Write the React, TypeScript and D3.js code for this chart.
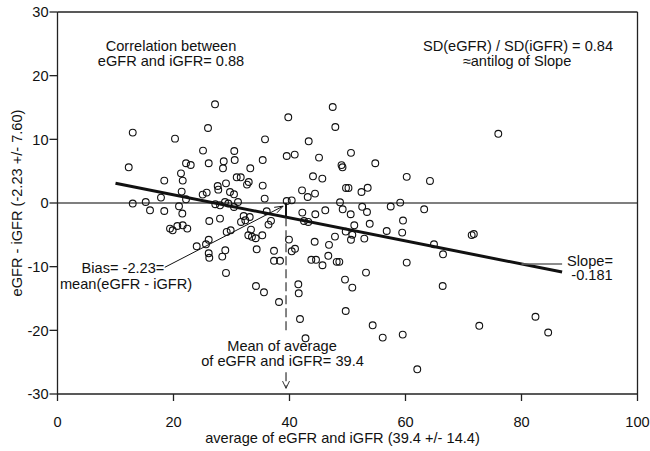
import React from "react";
import * as d3 from "d3";

// average of eGFR and iGFR (x) and eGFR - iGFR (y)
const avgValues: number[] = [
  27.16, 39.79, 12.97, 20.26, 25.95, 35.78, 43.31, 25.09, 30.48, 39.52,
  40.9, 45.09, 12.28, 22.16, 22.97, 26.07, 28.66, 30.55, 35.38, 28.53,
  33.24, 21.29, 30.9, 31.59, 44.05, 45.66, 18.41, 21.59, 29.05, 27.62,
  27.72, 32.97, 32.67, 35.38, 21.41, 25.03, 25.72, 29.74, 30.43, 42.16,
  44.4, 43.14, 17.84, 22.16, 35.72, 39.52, 40.38, 12.97, 15.21, 20.95,
  27.21, 28.02, 28.88, 29.45, 30.43, 31.12, 15.95, 18.41, 21.52, 26.17,
  28.02, 32.1, 33.14, 31.64, 32.38, 36.07, 36.81, 36.38, 42.21, 42.5,
  43.24, 44.45, 46.17, 19.4, 19.86, 20.66, 21.59, 22.38, 29.17, 29.86,
  33.36, 32.9, 33.53, 34.17, 35.31, 24.0, 25.6, 26.07, 26.07, 26.17,
  28.93, 28.41, 29.05, 34.34, 37.33, 37.33, 38.36, 39.91, 40.38, 40.95,
  44.34, 46.81, 43.76, 44.57, 45.69, 46.69, 34.22, 35.6, 38.19, 41.52,
  41.59, 41.81, 42.76, 47.45, 47.9, 76.0, 50.6, 48.97, 49.14, 54.79,
  60.21, 64.22, 49.74, 50.17, 53.48, 52.41, 48.71, 49.17, 50.55, 52.53,
  53.36, 57.45, 59.09, 63.22, 51.17, 53.83, 59.57, 49.69, 47.84, 56.76,
  59.43, 71.41, 71.78, 50.83, 50.6, 52.9, 48.14, 48.59, 53.19, 49.57,
  50.83, 60.21, 64.91, 66.47, 66.41, 49.69, 54.34, 56.07, 59.52, 72.72,
  62.03, 82.41, 84.6,
];
const diffValues: number[] = [
  15.5, 13.46, 11.06, 10.11, 11.78, 10.0, 9.69, 8.23, 8.17, 7.38,
  7.6, 7.13, 5.61, 6.24, 5.97, 6.24, 6.55, 6.75, 6.75, 5.45,
  5.45, 4.66, 4.04, 4.04, 4.19, 3.83, 3.52, 3.52, 3.09, 2.67,
  2.1, 3.3, 2.89, 2.73, 1.79, 1.32, 1.63, 1.73, 1.37, 1.99,
  1.48, 0.94, 0.85, 0.58, 0.69, 0.31, 0.42, -0.09, 0.16, -0.52,
  -0.2, -0.36, 0.16, -0.09, -0.63, 0.16, -1.15, -1.26, -1.66, -2.83,
  -2.45, -2.04, -2.2, -2.98, -2.72, -1.3, -2.8, -3.39, -1.51, -2.83,
  -2.98, -1.77, -1.15, -4.02, -4.29, -3.61, -3.5, -4.02, -4.55, -4.29,
  -4.18, -5.07, -5.31, -5.54, -5.07, -6.8, -6.49, -5.78, -7.9, -8.61,
  -7.43, -8.42, -10.99, -7.27, -7.51, -9.08, -9.08, -5.75, -7.59, -7.19,
  -6.09, -6.57, -8.92, -8.92, -9.78, -8.29, -13.04, -14.03, -15.55, -12.77,
  -14.18, -18.22, -21.25, 15.08, 11.94, 10.87, 7.88, 5.95, 5.61, 6.24,
  4.11, 3.46, 2.36, 2.36, 2.39, 1.73, 0.11, -0.99, -1.77, -0.6,
  -1.41, -0.55, 0.06, -0.99, -3.5, -3.27, -2.76, -4.49, -5.28, -4.4,
  -4.65, -5.04, -4.88, -4.99, -5.78, -5.59, -9.24, -9.24, -10.93, -12.03,
  -13.29, -9.36, -6.49, -8.06, -13.04, -16.96, -19.21, -21.14, -20.67, -19.29,
  -26.12, -17.87, -20.34,
];

const xTicks = [0, 20, 40, 60, 80, 100];
const yTicks = [-30, -20, -10, 0, 10, 20, 30];

const bias = -2.23;
const meanAvg = 39.4;
const slope = -0.181;
const regRange = [10, 87];

const W = 650;
const H = 451;
const M = { left: 57.5, right: 12.5, top: 12, bottom: 57 };
const FONT = "'Liberation Sans', Arial, Helvetica, sans-serif";

function arrowHead(tipX: number, tipY: number, fromX: number, fromY: number, len = 8, ang = 0.45) {
  const a = Math.atan2(tipY - fromY, tipX - fromX);
  const p1 = [tipX - len * Math.cos(a - ang), tipY - len * Math.sin(a - ang)];
  const p2 = [tipX - len * Math.cos(a + ang), tipY - len * Math.sin(a + ang)];
  return `M${p1[0]},${p1[1]}L${tipX},${tipY}L${p2[0]},${p2[1]}`;
}

export default function App() {
  const x = d3.scaleLinear().domain([0, 100]).range([M.left, W - M.right]);
  const y = d3.scaleLinear().domain([-30, 30]).range([H - M.bottom, M.top]);
  const x0 = x(0), x1 = x(100), y0 = y(-30), y1 = y(30);

  const regLine = d3.line<number>()
    .x((d) => x(d))
    .y((d) => y(bias + slope * (d - meanAvg)));

  // bias annotation arrow
  const bStart = [x(18.5), y(-10.1)];
  const bEnd = [x(38.9), y(-0.5)];

  // slope connector
  const sY = y(bias + slope * (80 - meanAvg));

  const textStyle = { fontFamily: FONT, fontSize: 14.6, fill: "#111" } as const;

  return (
    <svg width={W} height={H} style={{ position: "absolute", left: 0, top: 0, background: "#fff" }}>
      {/* zero line */}
      <line x1={x0} x2={x1} y1={y(0)} y2={y(0)} stroke="#555" strokeWidth={1.5} />

      {/* points */}
      <g>
        {avgValues.map((v, i) => (
          <circle key={i} cx={x(v)} cy={y(diffValues[i])} r={3.4} fill="none" stroke="#111" strokeWidth={1.1} />
        ))}
      </g>

      {/* regression line */}
      <path d={regLine(regRange) || ""} stroke="#111" strokeWidth={3} fill="none" />

      {/* bias vertical segment */}
      <line x1={x(meanAvg)} x2={x(meanAvg)} y1={y(0)} y2={y(bias)} stroke="#111" strokeWidth={2} />
      {/* dashed mean-of-average line */}
      <line x1={x(meanAvg)} x2={x(meanAvg)} y1={y(bias)} y2={y(-20.15)} stroke="#333" strokeWidth={1.2} strokeDasharray="9,4" />
      <line x1={x(meanAvg)} x2={x(meanAvg)} y1={y(-26.6)} y2={y(-29.1)} stroke="#333" strokeWidth={1.2} strokeDasharray="9,4" />
      <path d={arrowHead(x(meanAvg), y(-29.1), x(meanAvg), y(-20))} stroke="#333" strokeWidth={1} fill="none" />

      {/* bias arrow */}
      <line x1={bStart[0]} y1={bStart[1]} x2={bEnd[0]} y2={bEnd[1]} stroke="#111" strokeWidth={1} />
      <path d={arrowHead(bEnd[0], bEnd[1], bStart[0], bStart[1], 9, 0.35)} stroke="#111" strokeWidth={1} fill="none" />

      {/* slope connector */}
      <line x1={x(80)} x2={x(87)} y1={sY} y2={sY} stroke="#666" strokeWidth={1.5} />

      {/* frame */}
      <g stroke="#222" strokeWidth={1.3} fill="none">
        <line x1={x0} x2={x1} y1={y0} y2={y0} />
        <line x1={x0} x2={x1} y1={y1} y2={y1} />
        <line x1={x0} x2={x0} y1={y0} y2={y1} />
        <line x1={x1} x2={x1} y1={y0} y2={y1} />
      </g>

      {/* x axis ticks */}
      {xTicks.map((t) => (
        <g key={"x" + t}>
          <line x1={x(t)} x2={x(t)} y1={y0} y2={y0 + 7} stroke="#222" strokeWidth={1.3} />
          <text x={x(t)} y={427} textAnchor="middle" style={textStyle}>{t}</text>
        </g>
      ))}
      {/* y axis ticks */}
      {yTicks.map((t) => (
        <g key={"y" + t}>
          <line x1={x0 - 8} x2={x0} y1={y(t)} y2={y(t)} stroke="#222" strokeWidth={1.3} />
          <text x={x0 - 9} y={y(t)} dy="0.36em" textAnchor="end" style={textStyle}>{t}</text>
        </g>
      ))}

      {/* axis titles */}
      <text x={(x0 + x1) / 2 - 5} y={443} textAnchor="middle" style={textStyle}>
        average of eGFR and iGFR (39.4 +/- 14.4)
      </text>
      <text transform={`translate(22,${(y0 + y1) / 2}) rotate(-90)`} textAnchor="middle" style={textStyle}>
        eGFR - iGFR (-2.23 +/- 7.60)
      </text>

      {/* annotations */}
      <text x={171} y={50.5} textAnchor="middle" style={textStyle}>Correlation between</text>
      <text x={171} y={65.5} textAnchor="middle" style={textStyle}>eGFR and iGFR= 0.88</text>

      <text x={518} y={50.5} textAnchor="middle" style={textStyle}>SD(eGFR) / SD(iGFR) = 0.84</text>
      <text x={517} y={65.5} textAnchor="middle" style={textStyle}>≈antilog of Slope</text>

      <text x={123} y={273} textAnchor="middle" style={textStyle}>Bias= -2.23=</text>
      <text x={126} y={289} textAnchor="middle" style={textStyle}>mean(eGFR - iGFR)</text>

      <text x={282} y={350.5} textAnchor="middle" style={textStyle}>Mean of average</text>
      <text x={282.5} y={365.5} textAnchor="middle" style={textStyle}>of eGFR and iGFR= 39.4</text>

      <text x={590} y={265.5} textAnchor="middle" style={textStyle}>Slope=</text>
      <text x={592} y={280} textAnchor="middle" style={textStyle}>-0.181</text>
    </svg>
  );
}
